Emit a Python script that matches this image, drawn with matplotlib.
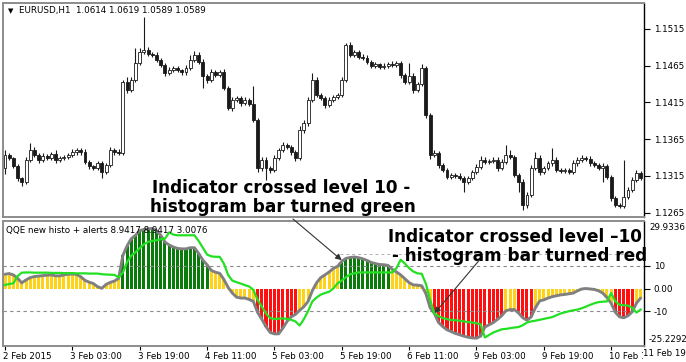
import numpy as np
import matplotlib
matplotlib.use('Agg')
import matplotlib.pyplot as plt
import matplotlib.transforms as mtransforms

# ---- price data (EURUSD H1), one entry per bar ----
first_open = 1.1325
closes = [1.1343, 1.1339, 1.1328, 1.1312, 1.1307, 1.1337, 1.1350, 1.1343, 1.1337, 1.1342, 1.1339, 1.1345, 1.1337, 1.1339, 1.1341, 1.1343, 1.1347, 1.1350, 1.1347,
          1.1334, 1.1328, 1.1326, 1.1332, 1.1320, 1.1330, 1.1350, 1.1347, 1.1346, 1.1443, 1.1432, 1.1446, 1.1469, 1.1484, 1.1486, 1.1481, 1.1480, 1.1473, 1.1466,
          1.1455, 1.1459, 1.1462, 1.1459, 1.1456, 1.1462, 1.1473, 1.1480, 1.1470, 1.1451, 1.1446, 1.1456, 1.1452, 1.1456, 1.1435, 1.1407, 1.1418, 1.1421, 1.1414,
          1.1418, 1.1413, 1.1391, 1.1326, 1.1337, 1.1326, 1.1323, 1.1339, 1.1350, 1.1357, 1.1354, 1.1347, 1.1339, 1.1377, 1.1387, 1.1418, 1.1446, 1.1425, 1.1421,
          1.1412, 1.1418, 1.1422, 1.1425, 1.1446, 1.1493, 1.1480, 1.1484, 1.1477, 1.1476, 1.1470, 1.1465, 1.1467, 1.1463, 1.1465, 1.1467, 1.1466, 1.1469, 1.1452,
          1.1443, 1.1451, 1.1432, 1.1440, 1.1462, 1.1398, 1.1343, 1.1346, 1.1330, 1.1323, 1.1313, 1.1316, 1.1315, 1.1312, 1.1307, 1.1312, 1.1320, 1.1327, 1.1337,
          1.1334, 1.1335, 1.1337, 1.1326, 1.1334, 1.1343, 1.1341, 1.1316, 1.1307, 1.1275, 1.1289, 1.1326, 1.1339, 1.1320, 1.1326, 1.1332, 1.1337, 1.1323, 1.1322,
          1.1323, 1.1320, 1.1332, 1.1337, 1.1339, 1.1338, 1.1332, 1.1330, 1.1326, 1.1328, 1.1313, 1.1285, 1.1275, 1.1274, 1.1286, 1.1296, 1.1309, 1.1319, 1.1312]
# wick lengths in pips above / below the candle body
upper_wick = [7, 3, 2, 3, 2, 3, 10, 4, 3, 4, 3, 3, 5, 3, 2, 3, 4, 3, 3,
              4, 3, 2, 3, 3, 3, 4, 3, 4, 3, 6, 4, 20, 5, 45, 4, 3, 4, 3,
              3, 4, 3, 3, 2, 4, 6, 5, 3, 4, 3, 4, 3, 3, 5, 3, 4, 3, 3,
              4, 3, 25, 3, 4, 3, 3, 4, 3, 4, 3, 3, 3, 6, 4, 5, 9, 4, 3,
              3, 4, 3, 3, 4, 3, 4, 3, 3, 4, 4, 3, 3, 2, 3, 3, 4, 3, 3,
              3, 18, 4, 3, 5, 3, 3, 4, 3, 3, 2, 3, 3, 4, 3, 3, 3, 4, 5,
              3, 3, 4, 3, 4, 14, 7, 3, 3, 3, 4, 4, 8, 4, 3, 3, 16, 3, 3,
              3, 3, 5, 3, 4, 3, 4, 3, 3, 4, 3, 3, 3, 3, 51, 4, 4, 4, 3]
lower_wick = [7, 3, 3, 4, 6, 3, 3, 3, 4, 3, 3, 3, 4, 3, 3, 3, 3, 3, 3,
              3, 4, 3, 3, 8, 3, 3, 3, 3, 3, 4, 3, 3, 3, 3, 3, 3, 3, 3,
              4, 3, 3, 3, 3, 4, 3, 3, 3, 16, 4, 3, 3, 3, 3, 3, 4, 3, 4,
              3, 3, 3, 6, 4, 17, 4, 3, 3, 3, 3, 3, 4, 3, 3, 4, 3, 3, 3,
              4, 3, 3, 3, 3, 3, 3, 3, 3, 3, 3, 3, 3, 3, 3, 3, 3, 3, 4,
              3, 3, 4, 3, 3, 4, 5, 3, 4, 3, 3, 3, 3, 3, 14, 3, 3, 3, 3,
              3, 3, 3, 4, 3, 3, 3, 3, 14, 7, 4, 3, 3, 4, 3, 3, 3, 3, 3,
              3, 3, 3, 3, 3, 3, 3, 3, 3, 19, 3, 4, 3, 3, 3, 3, 3, 3, 3]

# ---- QQE indicator ----
qqe = [6.3, 6.6, 6.0, 4.5, 2.5, 3.8, 4.8, 5.3, 5.5, 5.7, 5.9, 6.0, 5.6, 5.6, 6.0, 6.3, 6.4, 6.2, 5.2,
       3.6, 2.8, 2.2, 0.8, 0.1, 1.8, 2.7, 3.3, 4.5, 14.6, 18.8, 22.0, 23.5, 25.5, 26.1, 26.3, 26.5, 25.5, 23.5,
       20.5, 19.2, 18.3, 17.7, 17.5, 17.5, 18.0, 18.0, 15.5, 12.5, 10.5, 8.0, 7.2, 6.7, 4.0, 0.5, -2.0, -3.8, -4.2,
       -4.2, -4.8, -5.7, -10.5, -13.5, -16.8, -19.4, -20.0, -20.0, -17.5, -14.5, -12.5, -11.4, -9.6, -8.0, -5.7, -1.0, 2.5, 4.8,
       6.0, 7.3, 8.9, 9.8, 12.0, 13.3, 13.7, 13.9, 13.6, 13.1, 12.4, 11.5, 11.0, 10.6, 10.5, 10.2, 8.5, 7.3, 6.0,
       4.3, 2.6, 1.6, 1.5, 1.2, -2.3, -8.5, -11.0, -15.0, -16.8, -18.2, -19.0, -19.8, -20.4, -21.0, -21.5, -21.8, -21.9, -21.0,
       -17.0, -16.0, -15.0, -13.6, -12.0, -9.8, -9.3, -9.3, -10.8, -12.9, -14.0, -12.5, -8.5, -5.5, -5.0, -4.2, -3.6, -3.2, -2.8,
       -2.6, -2.3, -2.0, -1.0, -0.2, 0.0, -0.2, -0.4, -1.0, -2.0, -4.0, -6.5, -10.5, -12.5, -12.9, -12.0, -10.3, -6.5, -4.2]
signal = [1.6, 2.0, 2.3, 5.5, 7.0, 7.1, 7.1, 7.0, 7.0, 7.0, 7.0, 6.9, 6.9, 6.9, 6.8, 6.8, 6.8, 6.7, 6.7,
          6.7, 6.6, 6.6, 6.6, 6.3, 6.2, 6.1, 6.0, 5.0, 7.0, 11.7, 14.5, 16.0, 17.8, 19.5, 20.6, 21.0, 21.3, 21.7,
          22.0, 24.8, 23.8, 23.5, 23.5, 23.5, 23.5, 23.5, 21.0, 18.0, 15.0, 14.2, 14.0, 14.0, 11.0, 6.0, 3.5, 2.8, 2.2,
          1.5, 0.9, -0.6, -5.0, -8.0, -11.0, -13.0, -13.5, -13.3, -13.2, -13.4, -13.8, -14.5, -16.3, -13.5, -10.0, -5.7, -4.0, -2.7,
          -2.0, -1.4, 0.0, 2.3, 3.5, 5.0, 6.3, 6.7, 7.1, 7.1, 7.1, 7.1, 7.1, 7.1, 7.1, 7.1, 7.1, 9.0, 12.7,
          11.0, 9.0, 7.5, 6.7, 6.5, 2.0, -5.0, -11.0, -12.2, -13.0, -13.5, -13.9, -14.0, -14.2, -14.5, -14.8, -15.0, -15.3, -15.8,
          -21.6, -20.5, -19.4, -18.7, -18.0, -17.8, -17.5, -17.2, -17.0, -16.2, -15.0, -14.5, -14.2, -13.8, -13.4, -13.0, -12.6, -11.8, -11.0,
          -10.5, -10.0, -9.6, -9.3, -8.7, -8.0, -7.2, -6.5, -6.0, -5.8, -5.7, -2.0, -5.7, -7.2, -7.4, -7.5, -8.5, -10.6, -9.3]
level_hi, level_lo = 10, -10
qqe_max, qqe_min = 29.9336, -25.2292

price_ticks = [1.1515, 1.1465, 1.1415, 1.1365, 1.1315, 1.1265]
date_pos = [0, 16, 32, 48, 64, 80, 96, 112, 128, 144]
date_labels = ['2 Feb 2015', '3 Feb 03:00', '3 Feb 19:00', '4 Feb 11:00', '5 Feb 03:00',
               '5 Feb 19:00', '6 Feb 11:00', '9 Feb 03:00', '9 Feb 19:00', '10 Feb 11:00']

plt.rcParams['font.family'] = ['DejaVu Sans']
W, H = 686, 362
fig = plt.figure(figsize=(W / 100, H / 100), dpi=100)
ax1 = fig.add_axes([3 / W, 1 - 217 / H, 641 / W, 214 / H])
ax2 = fig.add_axes([3 / W, 1 - 345.7 / H, 641 / W, 125 / H])

n = len(closes)
x = np.arange(n)
c = np.array(closes)
o = np.concatenate([[first_open], c[:-1]])
hi = np.maximum(o, c) + np.array(upper_wick) * 0.0001
lo = np.minimum(o, c) - np.array(lower_wick) * 0.0001

# candles
ax1.vlines(x, lo, hi, color='#1a1a1a', lw=0.8, zorder=1)
bull = c >= o
body = np.maximum(np.abs(c - o), 0.00004)
ax1.bar(x[bull], body[bull], bottom=np.minimum(o, c)[bull], width=0.7,
        color='white', edgecolor='#1a1a1a', linewidth=0.6, zorder=2)
ax1.bar(x[~bull], body[~bull], bottom=np.minimum(o, c)[~bull], width=0.7,
        color='#1a1a1a', edgecolor='#1a1a1a', linewidth=0.6, zorder=2)
ax1.set_ylim(1.12589, 1.15504)

# histogram
q = np.array(qqe)
cols = np.where(q > level_hi, '#0a7a0a', np.where(q < level_lo, '#ff1010', '#ffd21a'))
ax2.bar(x, q, width=0.72, color=cols, linewidth=0, zorder=1)
ax2.plot(x, q, color='#808080', lw=2.1, zorder=3, solid_capstyle='round')
ax2.plot(x, signal, color='#22e022', lw=1.6, zorder=4)
for lv in (level_hi, level_lo):
    ax2.axhline(lv, color='#8a8a8a', lw=0.8, ls=(0, (3, 3)), zorder=2)
ax2.hlines(15.4, 79.5, n, color='#b0b0b0', lw=0.7, ls=(0, (3, 3)), zorder=2)
ax2.set_ylim(qqe_min, qqe_max)

for ax in (ax1, ax2):
    ax.set_xlim(-0.475, 151.8)
    for s in ('left', 'top', 'bottom'):
        ax.spines[s].set_color('#8c8c8c')
        ax.spines[s].set_linewidth(1.4)
    ax.spines['right'].set_color('black')
    ax.spines['right'].set_linewidth(1.0)
    ax.yaxis.tick_right()
    ax.tick_params(axis='y', length=4, width=0.8, pad=3, labelsize=6.3, direction='out')

ax1.set_xticks([])
ax1.set_yticks(price_ticks)
ax1.set_yticklabels(['%.4f' % p for p in price_ticks])

ax2.set_yticks([level_hi, 0, level_lo])
ax2.set_yticklabels(['10', '0.00', '-10'])
right_px = mtransforms.offset_copy(ax2.transAxes, fig=fig, x=5, y=0, units='dots')
ax2.text(1.0, 0.985, '%.4f' % qqe_max, transform=right_px, fontsize=6.3, va='top', ha='left')
ax2.text(1.0, 0.01, '%.4f' % qqe_min, transform=right_px, fontsize=6.3, va='bottom', ha='left')

ax2.set_xticks(date_pos)
ax2.set_xticklabels(date_labels)
ax2.tick_params(axis='x', length=3, width=0.8, pad=1.5, labelsize=6.3, direction='out')
shift = mtransforms.ScaledTranslation(-1.5 / 72, 0, fig.dpi_scale_trans)
for lbl in ax2.get_xticklabels():
    lbl.set_ha('left')
    lbl.set_transform(lbl.get_transform() + shift)
fig.text(643 / W, 1 - 349.5 / H, '11 Feb 19:00', fontsize=6.3, va='top', ha='left',
         bbox=dict(facecolor='white', edgecolor='none', pad=0.3))

# headers
fig.text(8 / W, 1 - 11 / H, '\u25bc', fontsize=5, va='center')
fig.text(19 / W, 1 - 11 / H, 'EURUSD,H1  1.0614 1.0619 1.0589 1.0589', fontsize=6.3, va='center')
fig.text(6 / W, 1 - 230 / H, 'QQE new histo + alerts 8.9417 8.9417 3.0076', fontsize=6.3, va='center')

# annotations
arrow = dict(arrowstyle='-|>', color='#333333', lw=0.8, mutation_scale=9, shrinkA=0, shrinkB=0)
ax2.annotate('', xy=(80, 12.5), xycoords='data', xytext=(293, H - 219),
             textcoords='figure pixels', arrowprops=arrow, annotation_clip=False)
ax2.annotate('', xy=(102, -11), xycoords='data', xytext=(482, H - 257),
             textcoords='figure pixels', arrowprops=arrow, annotation_clip=False)

big = dict(fontsize=12.2, fontweight='bold', va='baseline', ha='left', color='black')
fig.text(152.5 / W, 1 - 193 / H, 'Indicator crossed level 10 -', **big)
fig.text(150.5 / W, 1 - 211.5 / H, 'histogram bar turned green', **big)
fig.text(388.5 / W, 1 - 242 / H, 'Indicator crossed level \u201310', **big)
fig.text(391.5 / W, 1 - 261 / H, '- histogram bar turned red', **big)

fig.savefig('out.png', dpi=100)
